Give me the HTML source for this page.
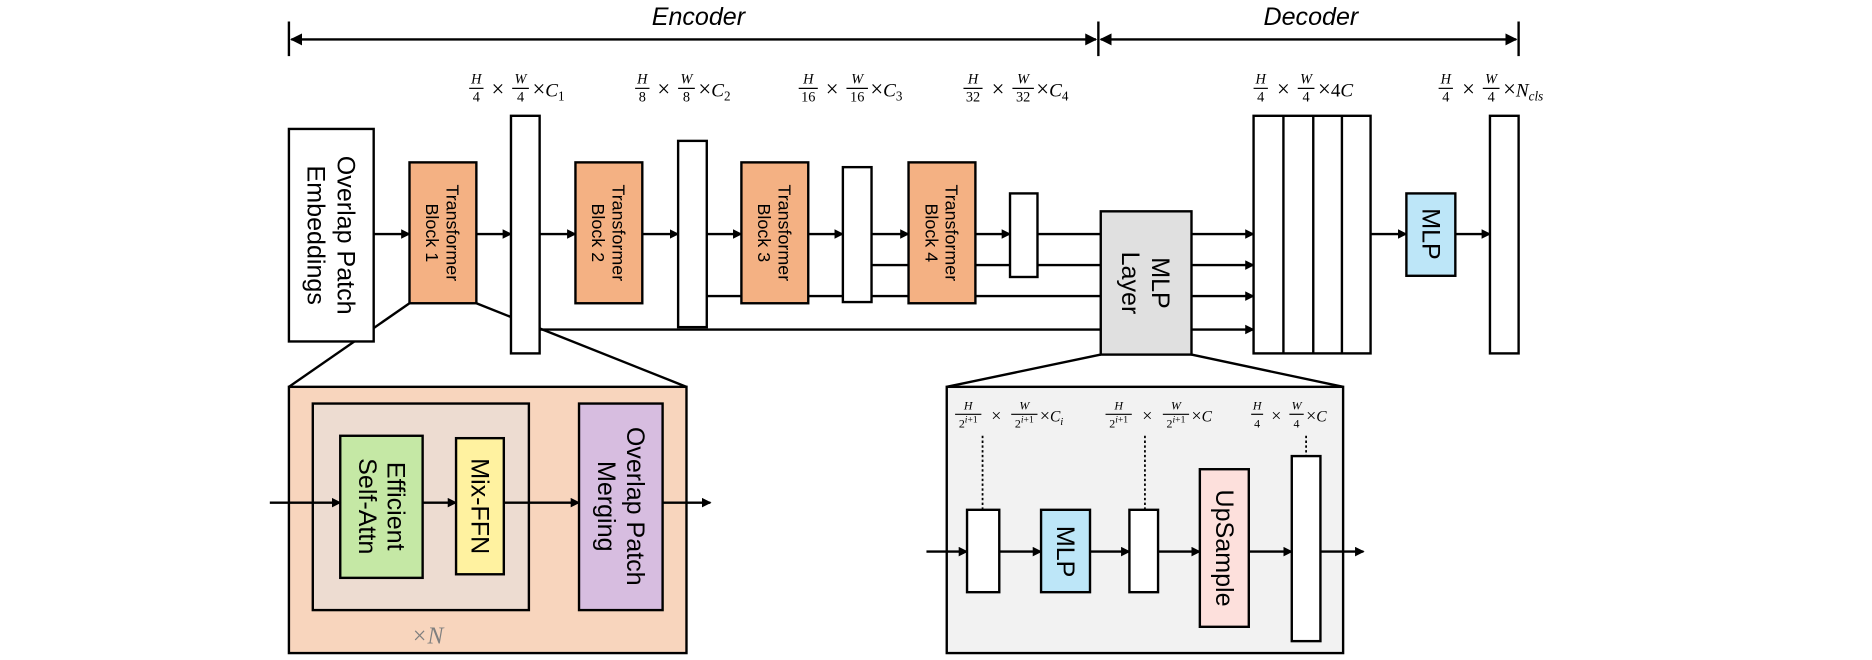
<!DOCTYPE html>
<html><head><meta charset="utf-8"><style>html,body{margin:0;padding:0;background:#fff}svg{display:block}</style></head>
<body>
<svg width="1872" height="660" viewBox="0 0 1568 552.8" preserveAspectRatio="none" xmlns="http://www.w3.org/2000/svg" font-family="Liberation Sans, sans-serif">
<defs>
<marker id="a" markerWidth="8" markerHeight="8" refX="7" refY="4" orient="auto" markerUnits="userSpaceOnUse"><path d="M0,0 L8,4 L0,8 z" fill="#000"/></marker>
<marker id="b" markerWidth="10" markerHeight="10" refX="9" refY="5" orient="auto" markerUnits="userSpaceOnUse"><path d="M0,0 L10,5 L0,10 z" fill="#000"/></marker>
<marker id="bs" markerWidth="10" markerHeight="10" refX="1" refY="5" orient="auto" markerUnits="userSpaceOnUse"><path d="M10,0 L0,5 L10,10 z" fill="#000"/></marker>
</defs>
<g stroke="#000" stroke-width="2" fill="none">
<line x1="242" y1="18" x2="242" y2="47"/><line x1="920" y1="18" x2="920" y2="47"/><line x1="1272" y1="18" x2="1272" y2="47"/>
<line x1="244" y1="33" x2="918" y2="33" marker-start="url(#bs)" marker-end="url(#b)"/>
<line x1="922" y1="33" x2="1270" y2="33" marker-start="url(#bs)" marker-end="url(#b)"/>
<line x1="343" y1="254" x2="242" y2="324"/><line x1="399" y1="254" x2="575" y2="324"/>
<line x1="922" y1="297" x2="793" y2="324"/><line x1="998" y1="297" x2="1125" y2="324"/>
<g marker-end="url(#a)">
<line x1="313" y1="196" x2="343" y2="196"/><line x1="399" y1="196" x2="428" y2="196"/>
<line x1="452" y1="196" x2="482" y2="196"/><line x1="538" y1="196" x2="568" y2="196"/>
<line x1="592" y1="196" x2="621" y2="196"/><line x1="677" y1="196" x2="706" y2="196"/>
<line x1="730" y1="196" x2="761" y2="196"/><line x1="817" y1="196" x2="846" y2="196"/>
<line x1="998" y1="196" x2="1050" y2="196"/><line x1="998" y1="222" x2="1050" y2="222"/>
<line x1="998" y1="248" x2="1050" y2="248"/><line x1="998" y1="276" x2="1050" y2="276"/>
<line x1="1148" y1="196" x2="1178" y2="196"/><line x1="1219" y1="196" x2="1248" y2="196"/>
</g>
<line x1="869" y1="196" x2="922" y2="196"/><line x1="730" y1="222" x2="922" y2="222"/>
<line x1="592" y1="248" x2="922" y2="248"/><line x1="452" y1="276" x2="922" y2="276"/>
</g>
<g stroke="#000" stroke-width="2">
<rect x="242" y="108" width="71" height="178" fill="#fff"/>
<rect x="343" y="136" width="56" height="118" fill="#f4b183"/>
<rect x="428" y="97" width="24" height="199" fill="#fff"/>
<rect x="482" y="136" width="56" height="118" fill="#f4b183"/>
<rect x="568" y="118" width="24" height="156" fill="#fff"/>
<rect x="621" y="136" width="56" height="118" fill="#f4b183"/>
<rect x="706" y="140" width="24" height="113" fill="#fff"/>
<rect x="761" y="136" width="56" height="118" fill="#f4b183"/>
<rect x="846" y="162" width="23" height="70" fill="#fff"/>
<rect x="922" y="177" width="76" height="120" fill="#e0e0e0"/>
<rect x="1050" y="97" width="98" height="199" fill="#fff"/>
<line x1="1075" y1="97" x2="1075" y2="296"/><line x1="1100" y1="97" x2="1100" y2="296"/><line x1="1124" y1="97" x2="1124" y2="296"/>
<rect x="1178" y="162" width="41" height="69" fill="#bde6f8"/>
<rect x="1248" y="97" width="24" height="199" fill="#fff"/>
<rect x="242" y="324" width="333" height="223" fill="#f8d5bd"/>
<rect x="262" y="338" width="181" height="173" fill="#eddcd1"/>
<rect x="285" y="365" width="69" height="119" fill="#c5e8a5"/>
<rect x="382" y="367" width="40" height="114" fill="#fff2a0"/>
<rect x="485" y="338" width="70" height="173" fill="#d7bde0"/>
<rect x="793" y="324" width="332" height="223" fill="#f2f2f2"/>
</g>
<g stroke="#000" stroke-width="2" fill="none" marker-end="url(#a)">
<line x1="226" y1="421" x2="285" y2="421"/><line x1="354" y1="421" x2="382" y2="421"/>
<line x1="422" y1="421" x2="485" y2="421"/><line x1="555" y1="421" x2="595" y2="421"/>
</g>
<g stroke="#000" stroke-width="2">
<g marker-end="url(#a)" fill="none">
<line x1="776" y1="462" x2="810" y2="462"/><line x1="837" y1="462" x2="872" y2="462"/>
<line x1="913" y1="462" x2="946" y2="462"/><line x1="970" y1="462" x2="1005" y2="462"/>
<line x1="1046" y1="462" x2="1082" y2="462"/><line x1="1106" y1="462" x2="1142" y2="462"/>
</g>
<g stroke-dasharray="2,2" stroke-width="1.5"><line x1="823" y1="365" x2="823" y2="427"/><line x1="959" y1="365" x2="959" y2="427"/><line x1="1094" y1="365" x2="1094" y2="382"/></g>
<rect x="810" y="427" width="27" height="69" fill="#fff"/>
<rect x="872" y="427" width="41" height="69" fill="#bde6f8"/>
<rect x="946" y="427" width="24" height="69" fill="#fff"/>
<rect x="1005" y="393" width="41" height="132" fill="#fde0dc"/>
<rect x="1082" y="382" width="24" height="155" fill="#fff"/>
</g>
<g font-style="italic" font-size="21" text-anchor="middle"><text x="585" y="21">Encoder</text><text x="1098" y="21">Decoder</text></g>
<g text-anchor="middle" font-size="21">
<text transform="translate(277.5,197) rotate(90)"><tspan x="0" y="-5">Overlap Patch</tspan><tspan x="0" y="20">Embeddings</tspan></text>
<text transform="translate(960,237) rotate(90)"><tspan x="0" y="-5">MLP</tspan><tspan x="0" y="20">Layer</tspan></text>
<text transform="translate(319.5,424) rotate(90)"><tspan x="0" y="-5">Efficient</tspan><tspan x="0" y="19">Self-Attn</tspan></text>
<text transform="translate(520,424) rotate(90)"><tspan x="0" y="-5">Overlap Patch</tspan><tspan x="0" y="19">Merging</tspan></text>
<text transform="translate(402,424) rotate(90)" y="7">Mix-FFN</text>
<text transform="translate(1198.5,196) rotate(90)" y="7">MLP</text>
<text transform="translate(892.5,462) rotate(90)" y="7">MLP</text>
<text transform="translate(1025.5,459) rotate(90)" y="7">UpSample</text>
</g>
<g text-anchor="middle" font-size="15">
<text transform="translate(371,195) rotate(90)"><tspan x="0" y="-3">Transformer</tspan><tspan x="0" y="14">Block 1</tspan></text>
<text transform="translate(510,195) rotate(90)"><tspan x="0" y="-3">Transformer</tspan><tspan x="0" y="14">Block 2</tspan></text>
<text transform="translate(649,195) rotate(90)"><tspan x="0" y="-3">Transformer</tspan><tspan x="0" y="14">Block 3</tspan></text>
<text transform="translate(789,195) rotate(90)"><tspan x="0" y="-3">Transformer</tspan><tspan x="0" y="14">Block 4</tspan></text>
</g>
<text x="358" y="539" font-size="20" font-style="italic" fill="#7f7f7f" text-anchor="middle" font-family="Liberation Serif, serif">×N</text>
<g font-family="Liberation Serif, serif" font-size="12" text-anchor="middle" font-style="italic">
<text x="399" y="70">H</text><text x="399" y="85" font-style="normal">4</text>
<text x="436" y="70">W</text><text x="436" y="85" font-style="normal">4</text>
<text x="538" y="70">H</text><text x="538" y="85" font-style="normal">8</text>
<text x="575" y="70">W</text><text x="575" y="85" font-style="normal">8</text>
<text x="677" y="70">H</text><text x="677" y="85" font-style="normal">16</text>
<text x="718" y="70">W</text><text x="718" y="85" font-style="normal">16</text>
<text x="815" y="70">H</text><text x="815" y="85" font-style="normal">32</text>
<text x="857" y="70">W</text><text x="857" y="85" font-style="normal">32</text>
<text x="1056" y="70">H</text><text x="1056" y="85" font-style="normal">4</text>
<text x="1094" y="70">W</text><text x="1094" y="85" font-style="normal">4</text>
<text x="1211" y="70">H</text><text x="1211" y="85" font-style="normal">4</text>
<text x="1249" y="70">W</text><text x="1249" y="85" font-style="normal">4</text>
<g font-size="10">
<text x="811" y="343">H</text><text x="811" y="358" font-style="normal">2<tspan font-style="italic" dy="-4" font-size="8">i</tspan><tspan font-size="8">+1</tspan></text>
<text x="858" y="343">W</text><text x="858" y="358" font-style="normal">2<tspan font-style="italic" dy="-4" font-size="8">i</tspan><tspan font-size="8">+1</tspan></text>
<text x="937" y="343">H</text><text x="937" y="358" font-style="normal">2<tspan font-style="italic" dy="-4" font-size="8">i</tspan><tspan font-size="8">+1</tspan></text>
<text x="985" y="343">W</text><text x="985" y="358" font-style="normal">2<tspan font-style="italic" dy="-4" font-size="8">i</tspan><tspan font-size="8">+1</tspan></text>
<text x="1053" y="343">H</text><text x="1053" y="358" font-style="normal">4</text>
<text x="1086" y="343">W</text><text x="1086" y="358" font-style="normal">4</text>
</g>
</g>
<g stroke="#000" stroke-width="1">
<line x1="393" y1="74" x2="405" y2="74"/><line x1="429" y1="74" x2="443" y2="74"/>
<line x1="532" y1="74" x2="544" y2="74"/><line x1="568" y1="74" x2="582" y2="74"/>
<line x1="669" y1="74" x2="685" y2="74"/><line x1="709" y1="74" x2="727" y2="74"/>
<line x1="807" y1="74" x2="823" y2="74"/><line x1="848" y1="74" x2="866" y2="74"/>
<line x1="1050" y1="74" x2="1062" y2="74"/><line x1="1087" y1="74" x2="1101" y2="74"/>
<line x1="1205" y1="74" x2="1217" y2="74"/><line x1="1242" y1="74" x2="1256" y2="74"/>
<line x1="800" y1="347" x2="822" y2="347"/><line x1="847" y1="347" x2="869" y2="347"/>
<line x1="926" y1="347" x2="948" y2="347"/><line x1="974" y1="347" x2="996" y2="347"/>
<line x1="1048" y1="347" x2="1058" y2="347"/><line x1="1080" y1="347" x2="1092" y2="347"/>
</g>
<g font-family="Liberation Serif, serif" font-size="19" text-anchor="middle">
<text x="417" y="81">×</text><text x="556" y="81">×</text><text x="697" y="81">×</text>
<text x="836" y="81">×</text><text x="1075" y="81">×</text><text x="1230" y="81">×</text>
</g>
<g font-family="Liberation Serif, serif" font-size="16">
<text x="446" y="81"><tspan font-size="19">×</tspan><tspan font-style="italic">C</tspan><tspan font-size="11" dy="3">1</tspan></text>
<text x="585" y="81"><tspan font-size="19">×</tspan><tspan font-style="italic">C</tspan><tspan font-size="11" dy="3">2</tspan></text>
<text x="729" y="81"><tspan font-size="19">×</tspan><tspan font-style="italic">C</tspan><tspan font-size="11" dy="3">3</tspan></text>
<text x="868" y="81"><tspan font-size="19">×</tspan><tspan font-style="italic">C</tspan><tspan font-size="11" dy="3">4</tspan></text>
<text x="1104" y="81"><tspan font-size="19">×</tspan>4<tspan font-style="italic">C</tspan></text>
<text x="1259" y="81"><tspan font-size="19">×</tspan><tspan font-style="italic">N</tspan><tspan font-size="11" dy="3" font-style="italic">cls</tspan></text>
</g>
<g font-family="Liberation Serif, serif" font-size="15" text-anchor="middle">
<text x="834.5" y="353">×</text><text x="961" y="353">×</text><text x="1069" y="353">×</text>
</g>
<g font-family="Liberation Serif, serif" font-size="13">
<text x="871" y="353"><tspan font-size="15">×</tspan><tspan font-style="italic">C</tspan><tspan font-size="9" dy="3" font-style="italic">i</tspan></text>
<text x="998" y="353"><tspan font-size="15">×</tspan><tspan font-style="italic">C</tspan></text>
<text x="1094" y="353"><tspan font-size="15">×</tspan><tspan font-style="italic">C</tspan></text>
</g>
</svg>
</body></html>
